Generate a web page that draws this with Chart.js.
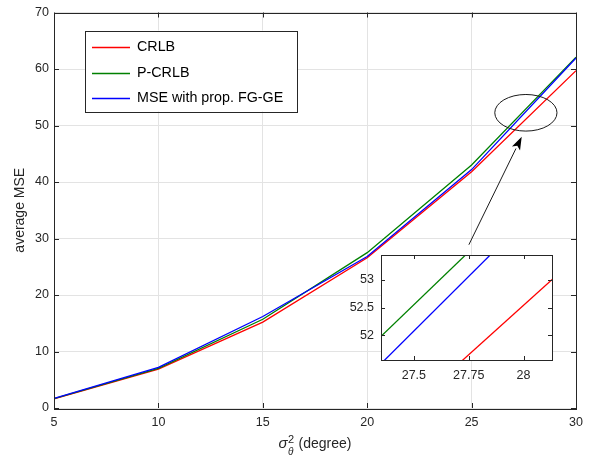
<!DOCTYPE html>
<html>
<head>
<meta charset="utf-8">
<script src="https://cdn.jsdelivr.net/npm/chart.js@4.4.0/dist/chart.umd.min.js"></script>
<style>
  html, body { margin: 0; padding: 0; background: #fff; }
  #wrap { position: relative; width: 591px; height: 458px; }
  #wrap canvas { position: absolute; left: 0; top: 0; }
  #insetChart { pointer-events: none; }
</style>
</head>
<body>
<div id="wrap">
  <canvas id="mainChart" width="591" height="458"></canvas>
  <canvas id="insetChart" width="591" height="458"></canvas>
</div>
<script>
// sigma_theta^2 values on the x axis
const variances = [5, 10, 15, 20, 25, 30];
const crlb = [1.6, 6.9, 15.2, 26.6, 41.8, 59.7];
const pcrlb = [1.65, 7.0, 15.7, 27.5, 43.0, 62.1];
const mseFgGe = [1.7, 7.2, 16.2, 26.8, 42.2, 61.95];

const xTicks = [5, 10, 15, 20, 25, 30];
const yTicks = [0, 10, 20, 30, 40, 50, 60, 70];
const insetXTicks = [27.5, 27.75, 28];
const insetYTicks = [52, 52.5, 53];
const insetXRange = [27.35, 28.13];
const insetYRange = [51.55, 53.45];

// ellipse round the zoomed part and the arrow pointing at it (data units)
const zoomEllipse = { x: 27.6, y: 52.25, rx: 1.49, ry: 3.24 };
const arrowFrom = { x: 24.87, y: 28.9 };
const arrowTo = { x: 27.4, y: 48.0 };

const FONT = '"Liberation Sans", Arial, Helvetica, sans-serif';
const INK = '#262626';
Chart.defaults.font.family = FONT;
Chart.defaults.color = INK;

function pts(values) {
    return variances.map((v, i) => ({ x: v, y: values[i] }));
}

function makeDatasets() {
    return [
        { label: 'CRLB', data: pts(crlb), borderColor: '#ff0000', order: 2 },
        { label: 'P-CRLB', data: pts(pcrlb), borderColor: '#008000', order: 1 },
        { label: 'MSE with prop. FG-GE', data: pts(mseFgGe), borderColor: '#0000ff', order: 0 }
    ].map(d => Object.assign(d, { borderWidth: 1.3, pointRadius: 0, tension: 0, fill: false, clip: 0 }));
}

// box round the plot area with inward tick marks on all four sides
function boxAndTicks(len) {
    return {
        id: 'boxAndTicks',
        afterDraw(chart) {
            const { ctx, chartArea: a, scales: { x, y } } = chart;
            ctx.save();
            ctx.strokeStyle = INK;
            ctx.lineWidth = 1;
            ctx.beginPath();
            x.ticks.forEach(t => {
                const px = Math.round(x.getPixelForValue(t.value)) + 0.5;
                ctx.moveTo(px, a.bottom); ctx.lineTo(px, a.bottom - len);
                ctx.moveTo(px, a.top); ctx.lineTo(px, a.top + len);
            });
            y.ticks.forEach(t => {
                const py = Math.round(y.getPixelForValue(t.value)) + 0.5;
                ctx.moveTo(a.left, py); ctx.lineTo(a.left + len, py);
                ctx.moveTo(a.right, py); ctx.lineTo(a.right - len, py);
            });
            ctx.stroke();
            ctx.strokeRect(Math.round(a.left) + 0.5, Math.round(a.top) + 0.5,
                Math.round(a.right - a.left), Math.round(a.bottom - a.top));
            ctx.restore();
        }
    };
}

const legendBox = {
    id: 'legendBox',
    afterDraw(chart) {
        const { ctx, chartArea: a } = chart;
        const left = a.left + 31, top = a.top + 18, w = 212, h = 81;
        ctx.save();
        ctx.fillStyle = '#fff';
        ctx.fillRect(left, top, w, h);
        ctx.strokeStyle = INK;
        ctx.lineWidth = 1;
        ctx.strokeRect(Math.round(left) + 0.5, Math.round(top) + 0.5, w, h);
        ctx.font = '14.3px ' + FONT;
        ctx.textBaseline = 'middle';
        chart.data.datasets.forEach((ds, i) => {
            const yy = Math.round(top + 16.5 + i * 25.5) + 0.5;
            ctx.strokeStyle = ds.borderColor;
            ctx.lineWidth = 1.3;
            ctx.beginPath();
            ctx.moveTo(left + 7, yy);
            ctx.lineTo(left + 45, yy);
            ctx.stroke();
            ctx.fillStyle = '#000';
            ctx.fillText(ds.label, left + 52, yy);
        });
        ctx.restore();
    }
};

const zoomMarker = {
    id: 'zoomMarker',
    afterDatasetsDraw(chart) {
        const { ctx, scales: { x, y } } = chart;
        const cx = x.getPixelForValue(zoomEllipse.x), cy = y.getPixelForValue(zoomEllipse.y);
        const rx = x.getPixelForValue(zoomEllipse.x + zoomEllipse.rx) - cx;
        const ry = cy - y.getPixelForValue(zoomEllipse.y + zoomEllipse.ry);
        ctx.save();
        ctx.strokeStyle = '#1a1a1a';
        ctx.lineWidth = 1;
        ctx.beginPath();
        ctx.ellipse(cx, cy, rx, ry, 0, 0, Math.PI * 2);
        ctx.stroke();

        const x0 = x.getPixelForValue(arrowFrom.x), y0 = y.getPixelForValue(arrowFrom.y);
        const x1 = x.getPixelForValue(arrowTo.x), y1 = y.getPixelForValue(arrowTo.y);
        const ang = Math.atan2(y1 - y0, x1 - x0);
        const hl = 13, hw = 4.5;
        const bx = x1 - hl * Math.cos(ang), by = y1 - hl * Math.sin(ang);
        ctx.beginPath();
        ctx.moveTo(x0, y0);
        ctx.lineTo(bx, by);
        ctx.stroke();
        ctx.fillStyle = '#000';
        ctx.beginPath();
        ctx.moveTo(x1, y1);
        ctx.lineTo(bx + hw * Math.sin(ang), by - hw * Math.cos(ang));
        ctx.lineTo(x1 - (hl - 3) * Math.cos(ang), y1 - (hl - 3) * Math.sin(ang));
        ctx.lineTo(bx - hw * Math.sin(ang), by + hw * Math.cos(ang));
        ctx.closePath();
        ctx.fill();
        ctx.restore();
    }
};

// axis titles, the x one has sigma with sub- and superscript
const axisTitles = {
    id: 'axisTitles',
    afterDraw(chart) {
        const { ctx, chartArea: a } = chart;
        ctx.save();
        ctx.fillStyle = INK;
        ctx.font = '14px ' + FONT;
        ctx.textAlign = 'center';
        ctx.textBaseline = 'middle';
        ctx.translate(20, (a.top + a.bottom) / 2);
        ctx.rotate(-Math.PI / 2);
        ctx.fillText('average MSE', 0, 0);
        ctx.restore();

        ctx.save();
        ctx.fillStyle = INK;
        ctx.textBaseline = 'alphabetic';
        ctx.textAlign = 'left';
        const base = 448;
        ctx.font = 'italic 15px ' + FONT;
        const sW = ctx.measureText('σ').width;
        ctx.font = '11px ' + FONT;
        const supW = ctx.measureText('2').width;
        ctx.font = 'italic 10px ' + FONT;
        const subW = ctx.measureText('θ').width;
        ctx.font = '14px ' + FONT;
        const rest = ' (degree)';
        const rW = ctx.measureText(rest).width;
        const total = sW + Math.max(supW, subW) + 1 + rW;
        let xx = (a.left + a.right) / 2 - total / 2;
        ctx.font = 'italic 15px ' + FONT;
        ctx.fillText('σ', xx, base);
        xx += sW + 0.5;
        ctx.font = '11px ' + FONT;
        ctx.fillText('2', xx, base - 5);
        ctx.font = 'italic 10px ' + FONT;
        ctx.fillText('θ', xx, base + 7);
        xx += Math.max(supW, subW) + 0.5;
        ctx.font = '14px ' + FONT;
        ctx.fillText(rest, xx, base);
        ctx.restore();
    }
};

const whitePlot = {
    id: 'whitePlot',
    beforeDraw(chart) {
        const { ctx, chartArea: a } = chart;
        ctx.save();
        ctx.fillStyle = '#fff';
        ctx.fillRect(a.left, a.top, a.right - a.left, a.bottom - a.top);
        ctx.restore();
    }
};

const tickText = { color: INK, font: { size: 12.5 }, maxRotation: 0, autoSkip: false, callback: v => String(v) };

new Chart(document.getElementById('mainChart'), {
    type: 'line',
    data: { datasets: makeDatasets() },
    options: {
        responsive: false,
        animation: false,
        devicePixelRatio: 1,
        layout: { padding: { top: 11, right: 15, left: 0, bottom: 0 } },
        plugins: { legend: { display: false }, tooltip: { enabled: false } },
        scales: {
            x: {
                type: 'linear', min: 5, max: 30,
                afterBuildTicks: s => { s.ticks = xTicks.map(v => ({ value: v })); },
                afterFit: s => { s.height = 50; },
                grid: { color: '#e3e3e3', drawTicks: false },
                border: { display: false },
                ticks: Object.assign({ padding: 7 }, tickText)
            },
            y: {
                type: 'linear', min: 0, max: 70,
                afterBuildTicks: s => { s.ticks = yTicks.map(v => ({ value: v })); },
                afterFit: s => { s.width = 54; },
                grid: { color: '#e3e3e3', drawTicks: false },
                border: { display: false },
                ticks: Object.assign({ padding: 5 }, tickText)
            }
        }
    },
    plugins: [zoomMarker, boxAndTicks(5), legendBox, axisTitles]
});

// zoomed inset near sigma^2 = 27.75
new Chart(document.getElementById('insetChart'), {
    type: 'line',
    data: { datasets: makeDatasets() },
    options: {
        responsive: false,
        animation: false,
        devicePixelRatio: 1,
        layout: { padding: { top: 255, right: 39, left: 0, bottom: 0 } },
        plugins: { legend: { display: false }, tooltip: { enabled: false } },
        scales: {
            x: {
                type: 'linear', min: insetXRange[0], max: insetXRange[1],
                afterBuildTicks: s => { s.ticks = insetXTicks.map(v => ({ value: v })); },
                afterFit: s => { s.height = 98; },
                grid: { display: false, drawTicks: false },
                border: { display: false },
                ticks: Object.assign({ padding: 8 }, tickText)
            },
            y: {
                type: 'linear', min: insetYRange[0], max: insetYRange[1],
                afterBuildTicks: s => { s.ticks = insetYTicks.map(v => ({ value: v })); },
                afterFit: s => { s.width = 381; },
                grid: { display: false, drawTicks: false },
                border: { display: false },
                ticks: Object.assign({ padding: 7 }, tickText)
            }
        }
    },
    plugins: [whitePlot, boxAndTicks(4)]
});
</script>
</body>
</html>
